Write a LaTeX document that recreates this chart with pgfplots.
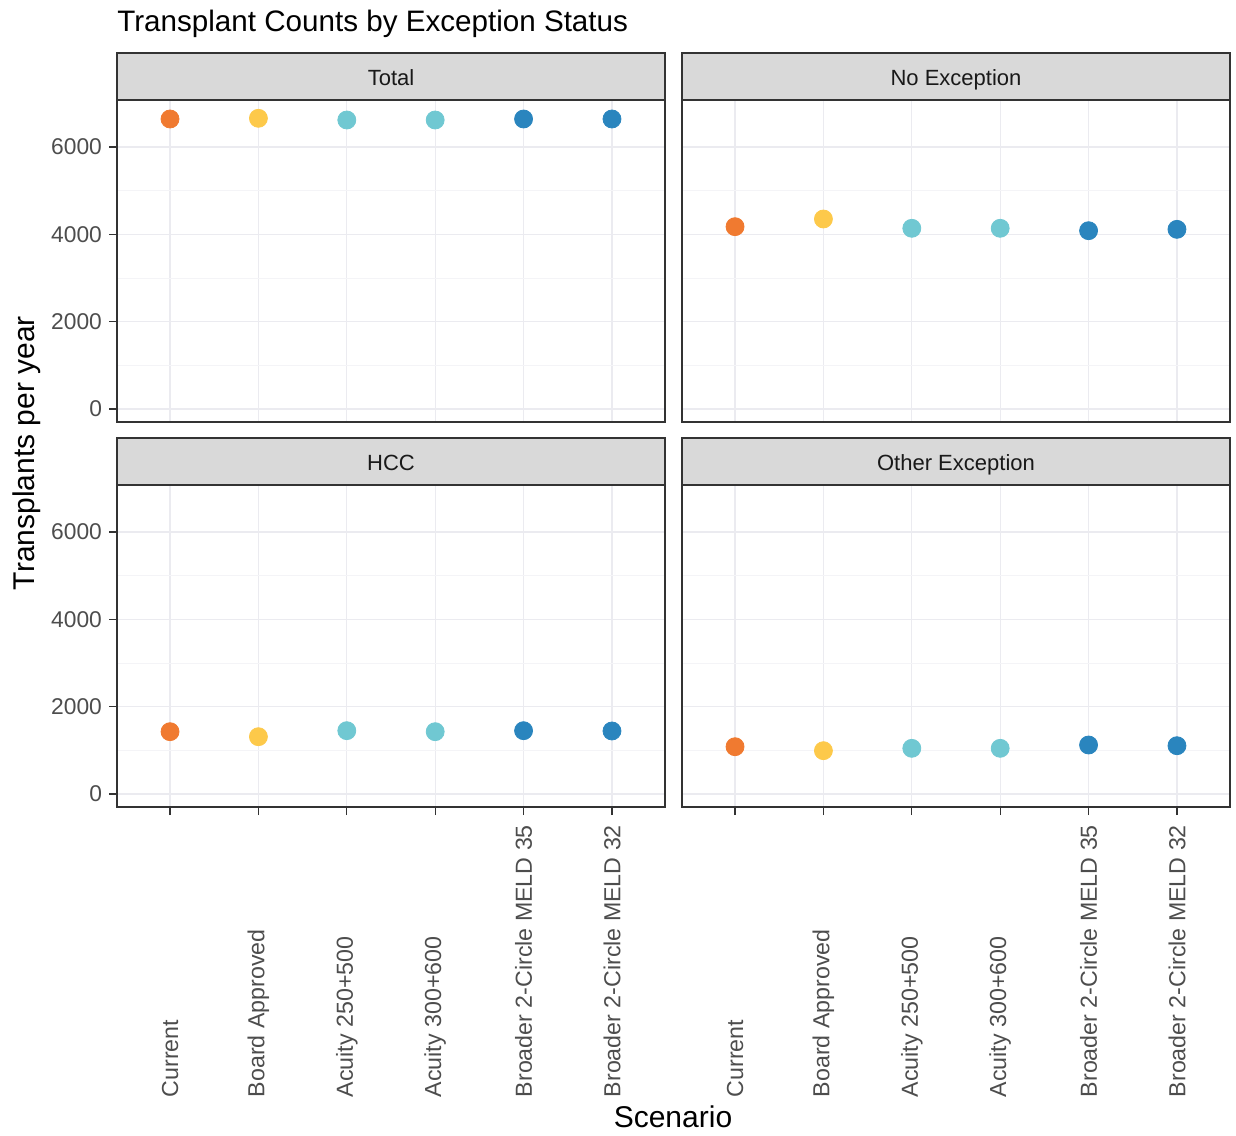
\documentclass[border=0pt]{standalone}
\usepackage{pgfplots}
\pgfplotsset{compat=1.18}
\usepackage{pgfplotstable}
\usepackage{fontspec}
\setmainfont{Liberation Sans}

\definecolor{cOr}{HTML}{F07A30}
\definecolor{cYe}{HTML}{FDC94A}
\definecolor{cTe}{HTML}{70C8D2}
\definecolor{cBl}{HTML}{2A85BE}
\definecolor{gridmaj}{HTML}{EBEBF0}
\definecolor{gridmin}{HTML}{F4F4F7}
\definecolor{stripbg}{HTML}{D9D9D9}
\definecolor{ticklab}{HTML}{4D4D4D}
\definecolor{frame}{HTML}{333333}

\pgfplotstableread{
x y c
1 6641 a
2 6657 b
3 6618 c
4 6618 c
5 6641 d
6 6641 d
}\tTotal
\pgfplotstableread{
x y c
1 4175 a
2 4351 b
3 4138 c
4 4138 c
5 4083 d
6 4114 d
}\tNoExc
\pgfplotstableread{
x y c
1 1427 a
2 1312 b
3 1450 c
4 1427 c
5 1450 d
6 1443 d
}\tHCC
\pgfplotstableread{
x y c
1 1083 a
2 992 b
3 1046 c
4 1046 c
5 1122 d
6 1106 d
}\tOther

\pgfplotsset{
  panel/.style={
    scale only axis, width=274pt, height=161pt,
    xmin=0.4, xmax=6.6, ymin=-298, ymax=7076,
    xtick={1,2,3,4,5,6},
    ytick={0,2000,4000,6000}, minor ytick={1000,3000,5000},
    grid=both,
    major grid style={gridmaj, line width=0.6pt},
    minor grid style={gridmin, line width=0.4pt},
    axis line style={frame, line width=0.7pt},
    tick align=outside, tick pos=left,
    major tick length=4pt, minor tick length=0pt,
    major tick style={frame, line width=0.6pt},
    ticklabel style={font=\fontsize{11.4}{13}\selectfont, text=ticklab},
    scaled y ticks=false,
    yticklabel style={/pgf/number format/.cd, fixed, 1000 sep={}},
    /pgf/number format/assume math mode=true,
    xticklabels={},
    clip=false,
    only marks, scatter, scatter src=explicit symbolic,
    scatter/classes={
      a={mark=*, mark size=4.5pt, draw=cOr, fill=cOr},
      b={mark=*, mark size=4.5pt, draw=cYe, fill=cYe},
      c={mark=*, mark size=4.5pt, draw=cTe, fill=cTe},
      d={mark=*, mark size=4.5pt, draw=cBl, fill=cBl}},
  },
  noy/.style={yticklabels={}, ytick style={draw=none}},
  nox/.style={xtick style={draw=none}},
  xlab/.style={
    xticklabels={Current, Board Approved, Acuity 250+500, Acuity 300+600,
      Broader 2-Circle MELD 35, Broader 2-Circle MELD 32},
    xticklabel style={yshift=-144.6pt, rotate=90, anchor=west, font=\fontsize{11.6}{14}\selectfont, text=ticklab},
  },
}

\newcommand{\strip}[1]{%
  \draw[fill=stripbg, draw=frame, line width=0.7pt] (rel axis cs:0,1) rectangle (rel axis cs:1,1.146);
  \node[anchor=base, font=\fontsize{11}{13}\selectfont, text=black!90] at (rel axis cs:0.5,1.0435) {#1};
}

\begin{document}
\begin{tikzpicture}
\useasboundingbox (0,0) rectangle (618pt,-567.5pt);

% Top-left: Total
\begin{axis}[panel, nox, at={(58.5pt,-211pt)}, anchor=south west]
\addplot table[x=x, y=y, meta=c] {\tTotal};
\strip{Total}
\end{axis}

% Top-right: No Exception
\begin{axis}[panel, nox, noy, at={(341pt,-211pt)}, anchor=south west]
\addplot table[x=x, y=y, meta=c] {\tNoExc};
\strip{No Exception}
\end{axis}

% Bottom-left: HCC
\begin{axis}[panel, xlab, at={(58.5pt,-403.5pt)}, anchor=south west]
\addplot table[x=x, y=y, meta=c] {\tHCC};
\strip{HCC}
\end{axis}

% Bottom-right: Other Exception
\begin{axis}[panel, xlab, noy, at={(341pt,-403.5pt)}, anchor=south west]
\addplot table[x=x, y=y, meta=c] {\tOther};
\strip{Other Exception}
\end{axis}

\node[anchor=base west, inner sep=0pt, font=\fontsize{14.8}{17}\selectfont, text=black] at (58.5pt,-16pt) {Transplant Counts by Exception Status};
\node[rotate=90, font=\fontsize{15}{18}\selectfont, text=black] at (13.5pt,-226.5pt) {Transplants per year};
\node[font=\fontsize{15}{18}\selectfont, text=black] at (336.5pt,-558.5pt) {Scenario};
\end{tikzpicture}
\end{document}
